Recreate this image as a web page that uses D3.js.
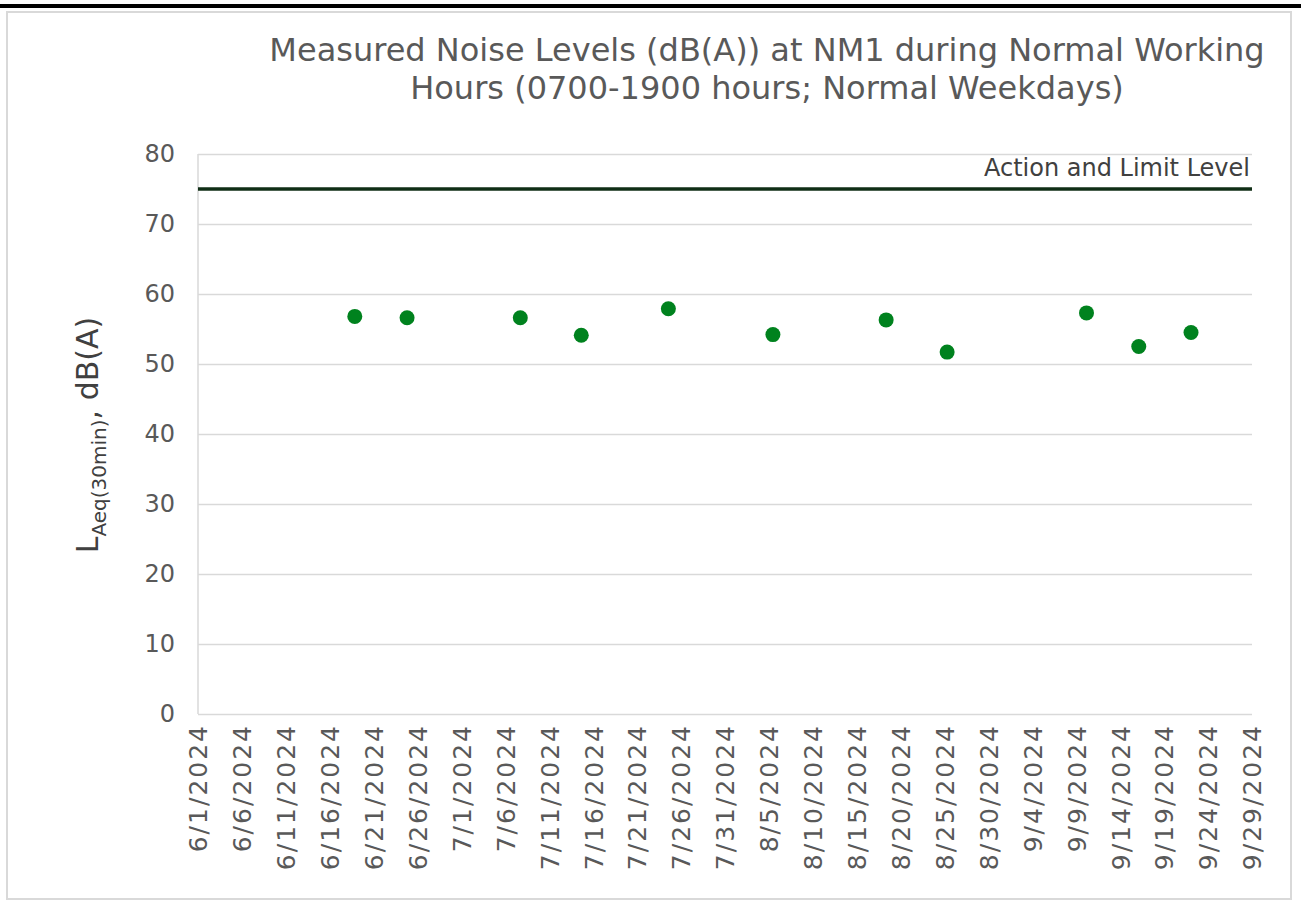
<!DOCTYPE html>
<html>
<head>
<meta charset="utf-8">
<script src="https://cdn.jsdelivr.net/npm/d3@7"></script>
<style>
  body { margin: 0; background: #fff; }
  svg, svg text { font-family: "DejaVu Sans", Verdana, sans-serif; }
  svg { display: block; }
  .grid line { stroke: #d9d9d9; stroke-width: 1.5; }
  .grid path { stroke: none; }
  .tick text { fill: #595959; }
</style>
</head>
<body>
<svg id="chart" width="1301" height="904"></svg>
<script>
// measurement dates (weekdays) and levels, dB(A)
const dates = ["2024-06-19", "2024-06-25", "2024-07-08", "2024-07-15", "2024-07-25", "2024-08-06",
               "2024-08-19", "2024-08-26", "2024-09-11", "2024-09-17", "2024-09-23"];
const levels = [56.8, 56.6, 56.6, 54.1, 57.9, 54.2, 56.3, 51.7, 57.3, 52.5, 54.5];
const limitLevel = 75;
const xTickLabels = ["6/1/2024", "6/6/2024", "6/11/2024", "6/16/2024", "6/21/2024", "6/26/2024", "7/1/2024",
                     "7/6/2024", "7/11/2024", "7/16/2024", "7/21/2024", "7/26/2024", "7/31/2024", "8/5/2024",
                     "8/10/2024", "8/15/2024", "8/20/2024", "8/25/2024", "8/30/2024", "9/4/2024", "9/9/2024",
                     "9/14/2024", "9/19/2024", "9/24/2024", "9/29/2024"];
const yTicks = [0, 10, 20, 30, 40, 50, 60, 70, 80];

const svg = d3.select('#chart');
const plotLeft = 198, plotRight = 1252, plotTop = 154, plotBottom = 714;

// frame
svg.append('rect').attr('x', 0).attr('y', 4).attr('width', 1301).attr('height', 4).attr('fill', '#000');
svg.append('rect').attr('x', 7).attr('y', 12).attr('width', 1284).attr('height', 887)
    .attr('fill', 'none').attr('stroke', '#d9d9d9').attr('stroke-width', 2);

const parse = d3.timeParse('%Y-%m-%d');
const points = dates.map(function (d, i) { return {date: parse(d), level: levels[i]}; });

const xScale = d3.scaleTime()
    .domain([parse('2024-06-01'), parse('2024-09-30')])
    .range([plotLeft, plotRight]);
const xLabelScale = d3.scalePoint()
    .domain(xTickLabels)
    .range([plotLeft, plotRight]);
const yScale = d3.scaleLinear()
    .domain([0, 80])
    .range([plotBottom, plotTop]);

// horizontal gridlines
svg.append('g')
    .attr('class', 'grid')
    .attr('transform', 'translate(' + plotLeft + ',0)')
    .call(d3.axisLeft(yScale).tickValues(yTicks).tickSize(-(plotRight - plotLeft)).tickFormat(''));

// y axis line + labels
svg.append('line').attr('x1', plotLeft).attr('x2', plotLeft).attr('y1', plotTop).attr('y2', plotBottom)
    .attr('stroke', '#d9d9d9').attr('stroke-width', 1.5);
const yAxis = svg.append('g')
    .attr('transform', 'translate(' + plotLeft + ',0)')
    .call(d3.axisLeft(yScale).tickValues(yTicks).tickSize(0).tickPadding(23));
yAxis.select('.domain').remove();
yAxis.selectAll('text').style('font-size', '24px');

// x axis labels
const xAxis = svg.append('g')
    .attr('transform', 'translate(0,' + plotBottom + ')')
    .call(d3.axisBottom(xLabelScale).tickSize(0));
xAxis.select('.domain').remove();
xAxis.selectAll('text')
    .style('font-size', '25px')
    .style('letter-spacing', '2px')
    .style('text-anchor', 'end')
    .attr('dy', '0.35em')
    .attr('dx', 0)
    .attr('y', 0)
    .attr('x', -10)
    .attr('transform', 'rotate(-90)');

// limit line
svg.append('line')
    .attr('x1', plotLeft).attr('x2', plotRight)
    .attr('y1', yScale(limitLevel)).attr('y2', yScale(limitLevel))
    .attr('stroke', '#102e16').attr('stroke-width', 3.5);
svg.append('text')
    .attr('x', plotRight - 2)
    .attr('y', yScale(limitLevel) - 13)
    .attr('text-anchor', 'end')
    .attr('fill', '#404040')
    .style('font-size', '24px')
    .text('Action and Limit Level');

// data points
svg.selectAll('circle.pt')
    .data(points)
    .enter()
    .append('circle')
    .attr('class', 'pt')
    .attr('cx', function (d) { return xScale(d.date); })
    .attr('cy', function (d) { return yScale(d.level); })
    .attr('r', 7.5)
    .attr('fill', '#00821e');

// title
const title = svg.append('text')
    .attr('text-anchor', 'middle')
    .attr('fill', '#595959')
    .style('font-size', '32px');
title.append('tspan').attr('x', 767).attr('y', 61)
    .text('Measured Noise Levels (dB(A)) at NM1 during Normal Working');
title.append('tspan').attr('x', 767).attr('y', 99)
    .text('Hours (0700-1900 hours; Normal Weekdays)');

// y axis title
const yLabel = svg.append('text')
    .attr('transform', 'translate(98,435) rotate(-90)')
    .attr('text-anchor', 'middle')
    .attr('fill', '#404040')
    .style('font-size', '30px');
yLabel.append('tspan').text('L');
yLabel.append('tspan').attr('dy', 8).style('font-size', '20px').text('Aeq(30min)');
yLabel.append('tspan').attr('dy', -8).text(', dB(A)');
</script>
</body>
</html>
